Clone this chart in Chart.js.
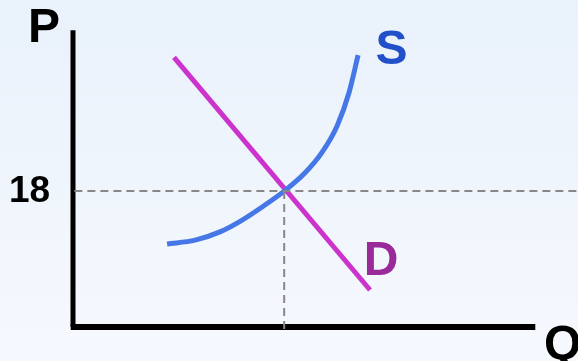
<!DOCTYPE html>
<html>
<head>
<meta charset="utf-8">
<script src="https://cdn.jsdelivr.net/npm/chart.js@4/dist/chart.umd.min.js"></script>
<style>
  body { margin: 0; overflow: hidden; background: linear-gradient(#e9f1fb, #f6f9fe); }
  canvas { display: block; }
</style>
</head>
<body>
<canvas id="myChart" width="578" height="361"></canvas>
<script>
// supply curve (Q, P)
const supplyQ = [20.5, 26.6, 32.0, 36.4, 41.2, 46.0, 50.5, 54.2, 57.5, 60.1, 62.1];
const supplyP = [11.0, 11.5, 12.6, 14.0, 15.9, 18.0, 20.4, 23.1, 26.6, 31.0, 36.0];
// demand line
const demandQ = [22.0, 64.7];
const demandP = [35.7, 4.9];
// equilibrium
const eqQ = 46;
const eqP = 18;
const tickLabels = ['18'];
const axisLabels = ['P', 'Q'];
const curveLabels = ['S', 'D'];

const ctx = document.getElementById('myChart').getContext('2d');

const toPoints = (xs, ys) => xs.map((x, i) => ({ x: x, y: ys[i] }));

const textPlugin = {
    id: 'texts',
    afterDatasetsDraw(chart) {
        const c = chart.ctx;
        const ys = chart.scales.y;
        c.save();
        c.font = 'bold 48px "Liberation Sans", Arial, sans-serif';
        c.textBaseline = 'alphabetic';
        c.fillStyle = '#000';
        c.textAlign = 'left';
        c.fillText(axisLabels[0], 28, 42);
        c.fillText(axisLabels[1], 544, 359);
        c.textAlign = 'center';
        c.fillStyle = '#2150c8';
        c.fillText(curveLabels[0], 391.5, 64);
        c.fillStyle = '#9a2a9a';
        c.fillText(curveLabels[1], 381, 275);
        c.fillStyle = '#000';
        c.font = 'bold 37px "Liberation Sans", Arial, sans-serif';
        c.textBaseline = 'middle';
        c.fillText(tickLabels[0], 29.5, ys.getPixelForValue(Number(tickLabels[0])) + 1);
        c.restore();
    }
};

new Chart(ctx, {
    type: 'scatter',
    data: {
        datasets: [
            {
                data: toPoints([0.3, 110], [eqP, eqP]),
                showLine: true,
                borderColor: '#888',
                borderWidth: 2,
                borderDash: [8, 5],
                pointRadius: 0,
                clip: false
            },
            {
                data: toPoints([eqQ, eqQ], [eqP, -0.8]),
                showLine: true,
                borderColor: '#888',
                borderWidth: 2,
                borderDash: [8, 5],
                pointRadius: 0,
                clip: false
            },
            {
                data: toPoints([0, 0], [0, 39.3]),
                showLine: true,
                borderColor: '#000',
                borderWidth: 5,
                pointRadius: 0,
                clip: false
            },
            {
                data: toPoints([-0.5, 100.7], [0, 0]),
                showLine: true,
                borderColor: '#000',
                borderWidth: 6,
                pointRadius: 0,
                clip: false
            },
            {
                data: toPoints(supplyQ, supplyP),
                showLine: true,
                borderColor: '#4677e6',
                borderWidth: 5,
                pointRadius: 0,
                cubicInterpolationMode: 'monotone',
                clip: false
            },
            {
                data: toPoints(demandQ, demandP),
                showLine: true,
                borderColor: '#cc33cc',
                borderWidth: 5,
                pointRadius: 0,
                clip: false
            }
        ]
    },
    options: {
        responsive: false,
        animation: false,
        devicePixelRatio: 1,
        layout: { padding: { left: 73, right: 0, top: 25, bottom: 34 } },
        plugins: { legend: { display: false }, tooltip: { enabled: false } },
        scales: {
            x: { type: 'linear', min: 0, max: 110, display: false },
            y: { type: 'linear', min: 0, max: 40, display: false }
        }
    },
    plugins: [textPlugin]
});
</script>
</body>
</html>
